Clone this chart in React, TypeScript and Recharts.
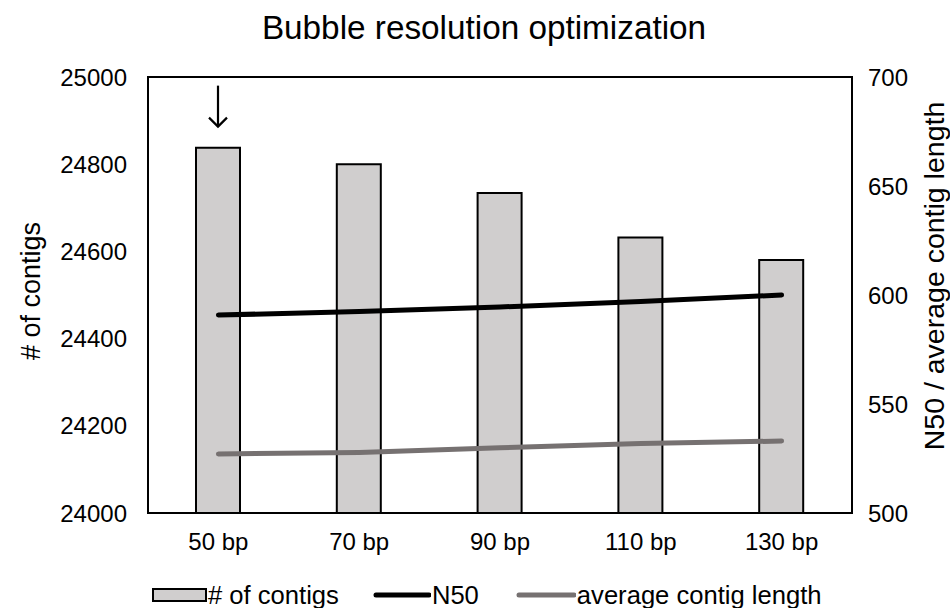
import React from 'react';
import {
  ComposedChart,
  Bar,
  Line,
  XAxis,
  YAxis,
  ReferenceArea,
  LabelList,
} from 'recharts';

// Bubble resolution setting (x categories)
const categories = ['50 bp', '70 bp', '90 bp', '110 bp', '130 bp'];
// Number of contigs (left axis)
const contigCounts = [24838, 24800, 24734, 24632, 24580];
// N50 (right axis)
const n50Values = [590.8, 592.4, 594.5, 597.0, 600.0];
// Average contig length (right axis)
const avgLengths = [527.1, 527.8, 529.9, 531.9, 533.0];

const leftTicks = [24000, 24200, 24400, 24600, 24800, 25000];
const rightTicks = [500, 550, 600, 650, 700];

const data = categories.map((name, i) => ({
  name,
  contigs: contigCounts[i],
  n50: n50Values[i],
  avg: avgLengths[i],
}));

const FONT = '"Liberation Sans", Arial, sans-serif';
const BAR_FILL = '#d0cece';
const AVG_COLOR = '#767171';
const TICK_FONT = 24;

// Down arrow marking the first bar
const ArrowMark = (props: any) => {
  const { x, y, width, index } = props;
  if (index !== 0) return null;
  const cx = x + width / 2;
  const top = y - 62;
  const tip = y - 21;
  return (
    <g stroke="#000" strokeWidth={2.2} fill="none">
      <line x1={cx} y1={top} x2={cx} y2={tip} />
      <polyline points={`${cx - 9},${tip - 9} ${cx},${tip} ${cx + 9},${tip - 9}`} />
    </g>
  );
};

const LeftTitle = (props: any) => {
  const { viewBox } = props;
  const cx = 31;
  const cy = viewBox.y + viewBox.height / 2 - 4;
  return (
    <text
      x={cx}
      y={cy}
      transform={`rotate(-90 ${cx} ${cy})`}
      textAnchor="middle"
      dominantBaseline="central"
      fontSize={27}
      fontFamily={FONT}
      fill="#000"
    >
      # of contigs
    </text>
  );
};

const RightTitle = (props: any) => {
  const { viewBox } = props;
  const cx = 934;
  const cy = viewBox.y + viewBox.height / 2 - 19;
  return (
    <text
      x={cx}
      y={cy}
      transform={`rotate(-90 ${cx} ${cy})`}
      textAnchor="middle"
      dominantBaseline="central"
      fontSize={28.5}
      fontFamily={FONT}
      fill="#000"
    >
      N50 / average contig length
    </text>
  );
};

const legendItems = [
  { label: '# of contigs', kind: 'bar', icon: 55, gap: 34 },
  { label: 'N50', kind: 'line', color: '#000', icon: 58, gap: 37 },
  { label: 'average contig length', kind: 'line', color: AVG_COLOR, icon: 60, gap: 0 },
];

const Legend = () => (
  <div
    style={{
      position: 'absolute',
      left: 152,
      top: 580,
      display: 'flex',
      alignItems: 'center',
      fontFamily: FONT,
      fontSize: 25.6,
      color: '#000',
      lineHeight: '30px',
    }}
  >
    {legendItems.map((it) => (
      <div key={it.label} style={{ display: 'flex', alignItems: 'center', marginRight: it.gap }}>
        <svg width={it.icon} height={16} style={{ marginRight: 1 }}>
          {it.kind === 'bar' ? (
            <rect x={1} y={2} width={it.icon - 2} height={12} fill={BAR_FILL} stroke="#000" strokeWidth={2} />
          ) : (
            <line x1={3} y1={8} x2={it.icon - 2} y2={8} stroke={it.color} strokeWidth={5} strokeLinecap="round" />
          )}
        </svg>
        <span>{it.label}</span>
      </div>
    ))}
  </div>
);

export default function App() {
  return (
    <div style={{ position: 'absolute', left: 0, top: 0, width: 950, height: 608, background: '#fff' }}>
      <div
        style={{
          position: 'absolute',
          left: 0,
          width: 950,
          top: 8,
          textAlign: 'center',
          fontFamily: FONT,
          fontSize: 33.3,
          lineHeight: '40px',
          color: '#000',
          paddingLeft: 18,
          boxSizing: 'border-box',
        }}
      >
        Bubble resolution optimization
      </div>
      <ComposedChart
        width={950}
        height={608}
        data={data}
        margin={{ top: 77, right: 0, bottom: 0, left: 0 }}
        barSize={44}
      >
        <XAxis
          dataKey="name"
          xAxisId="bottom"
          height={95}
          tickLine={false}
          axisLine={{ stroke: '#000', strokeWidth: 2 }}
          tick={{ fill: '#000', fontSize: TICK_FONT, fontFamily: FONT }}
          tickMargin={14}
        />
        <YAxis
          yAxisId="left"
          width={148}
          domain={[24000, 25000]}
          ticks={leftTicks}
          tickLine={false}
          axisLine={{ stroke: '#000', strokeWidth: 2 }}
          tick={{ fill: '#000', fontSize: TICK_FONT, fontFamily: FONT }}
          tickSize={0}
          tickMargin={21}
          interval={0}
          label={<LeftTitle />}
        />
        <YAxis
          yAxisId="right"
          orientation="right"
          width={98}
          domain={[500, 700]}
          ticks={rightTicks}
          tickLine={false}
          axisLine={{ stroke: '#000', strokeWidth: 2 }}
          tick={{ fill: '#000', fontSize: TICK_FONT, fontFamily: FONT }}
          tickSize={0}
          tickMargin={16}
          interval={0}
          label={<RightTitle />}
        />
        <ReferenceArea
          xAxisId="bottom"
          yAxisId="left"
          y1={24000}
          y2={25000}
          fill="none"
          stroke="#000"
          strokeWidth={2}
          ifOverflow="extendDomain"
        />
        <Bar
          dataKey="contigs"
          xAxisId="bottom"
          yAxisId="left"
          fill={BAR_FILL}
          stroke="#000"
          strokeWidth={2}
          isAnimationActive={false}
        >
          <LabelList dataKey="contigs" content={<ArrowMark />} />
        </Bar>
        <Line
          dataKey="n50"
          xAxisId="bottom"
          yAxisId="right"
          type="linear"
          stroke="#000"
          strokeWidth={5}
          strokeLinecap="round"
          dot={false}
          isAnimationActive={false}
        />
        <Line
          dataKey="avg"
          xAxisId="bottom"
          yAxisId="right"
          type="linear"
          stroke={AVG_COLOR}
          strokeWidth={5}
          strokeLinecap="round"
          dot={false}
          isAnimationActive={false}
        />
      </ComposedChart>
      <Legend />
    </div>
  );
}
